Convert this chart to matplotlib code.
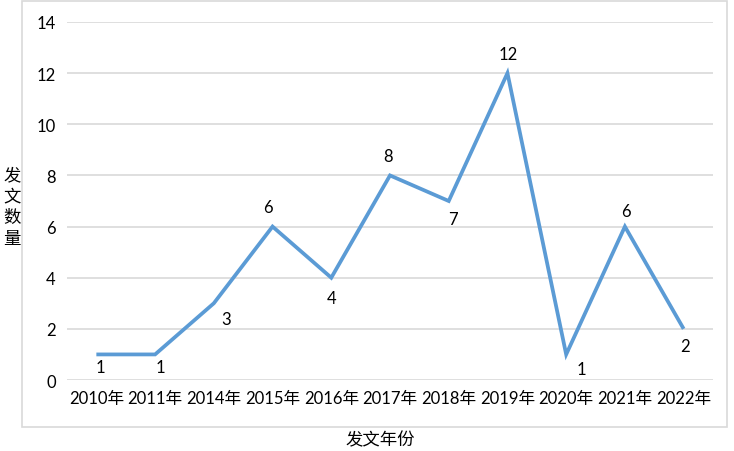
import matplotlib.pyplot as plt
from matplotlib.patches import Rectangle

plt.rcParams['font.family'] = ['Lato', 'Noto Sans CJK SC', 'DejaVu Sans']

# data
years = ['2010年', '2011年', '2014年', '2015年', '2016年', '2017年',
         '2018年', '2019年', '2020年', '2021年', '2022年']
counts = [1, 1, 3, 6, 4, 8, 7, 12, 1, 6, 2]
y_ticks = [0, 2, 4, 6, 8, 10, 12, 14]

# label offsets (pixels, x right / y up) mimicking Excel's placement
label_offsets = [(4, -13), (5, -13), (12, -16), (-5, 20), (0, -20), (-2, 19),
                 (4, -18), (1, 19), (15, -15), (1, 16), (1, -17)]

fig = plt.figure(figsize=(7.34, 4.52), dpi=100)
ax = fig.add_axes([67 / 734, 1 - 381 / 452, (713 - 67) / 734, (381 - 23) / 452])

# outer chart frame
fig.patches.append(Rectangle((22 / 734, 1 - 428 / 452), 705 / 734, 426 / 452,
                             transform=fig.transFigure, fill=False,
                             edgecolor='#d9d9d9', linewidth=1.2))

x = list(range(len(years)))
ax.plot(x, counts, color='#5b9bd5', linewidth=2.7, solid_capstyle='butt',
        solid_joinstyle='miter', zorder=3)

for xi, v, (dx, dy) in zip(x, counts, label_offsets):
    ax.annotate(str(v), (xi, v), xytext=(dx * 0.72, dy * 0.72),
                textcoords='offset points', ha='center', va='center',
                fontsize=12, color='black')

ax.set_xlim(-0.5, len(years) - 0.5)
ax.set_ylim(0, 14)
ax.set_yticks(y_ticks)
ax.set_xticks(x)
ax.set_xticklabels(years)
ax.grid(axis='y', color='#d9d9d9', linewidth=1.2)
ax.set_axisbelow(True)
for s in ax.spines.values():
    s.set_visible(False)
ax.tick_params(length=0, labelsize=12, colors='black')
ax.tick_params(axis='y', pad=8)
ax.tick_params(axis='x', pad=7)

fig.text(12 / 734, 1 - 207 / 452, '发\n文\n数\n量', ha='center', va='center',
         fontsize=12.5, linespacing=1.4)
fig.text(380 / 734, 1 - 440 / 452, '发文年份', ha='center', va='center',
         fontsize=12.5)

fig.savefig('out.png', dpi=100)
